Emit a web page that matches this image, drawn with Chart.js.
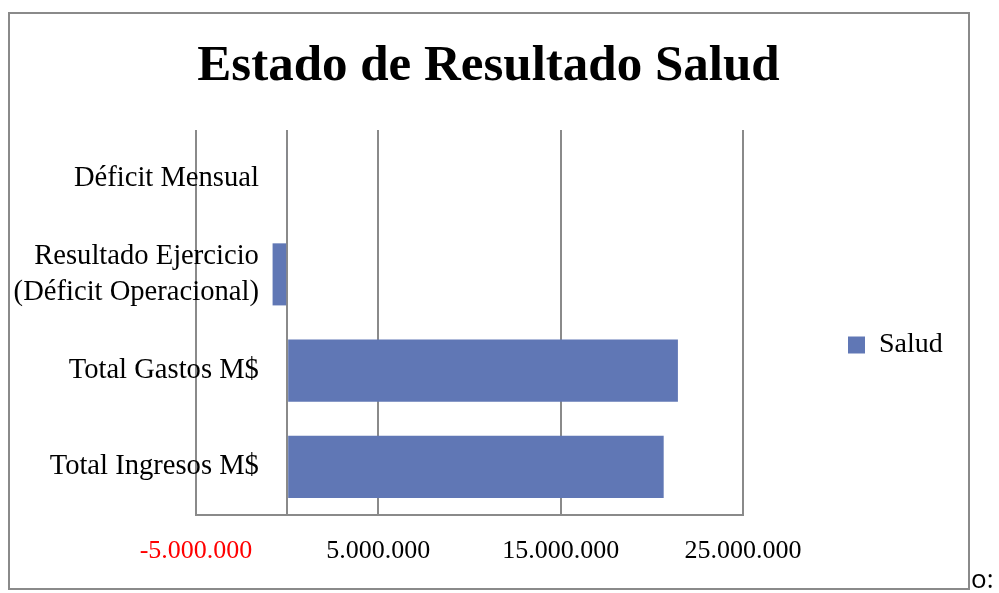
<!DOCTYPE html>
<html>
<head>
<meta charset="utf-8">
<script src="https://cdn.jsdelivr.net/npm/chart.js@4.4.0/dist/chart.umd.min.js"></script>
<style>
  html, body { margin:0; padding:0; background:#fff; }
  body { width:999px; height:593px; position:relative; overflow:hidden; }
  #frame { position:absolute; left:8px; top:12px; width:958px; height:574px; border:2px solid #8a8a8a; }
  #chart { position:absolute; left:0; top:0; }
  #tail { position:absolute; left:971px; top:565px; font:26px/26px "Open Sans", sans-serif; color:#000; }
</style>
</head>
<body>
<div id="frame"></div>
<canvas id="chart" width="999" height="593"></canvas>
<span id="tail">o:</span>
<script>
// data
const categories = [
  'Déficit Mensual',
  ['Resultado Ejercicio', '(Déficit Operacional)'],
  'Total Gastos M$',
  'Total Ingresos M$'
];
const seriesName = 'Salud';
const saludValues = [-60000, -800000, 21430000, 20650000];

// axis: -5M .. 25M, labels only every other step
const xMin = -5000000, xMax = 25000000, xStep = 5000000;
const xTickLabels = [-5000000, 5000000, 15000000, 25000000];
const xGridValues = [-5000000, 0, 5000000, 15000000, 25000000];

const SERIF = "'Liberation Serif', 'Times New Roman', serif";
const GRID = '#8a8a8a';
const BAR = '#6077b5';

function fmt(v){
  const s = Math.abs(v).toString().replace(/\B(?=(\d{3})+(?!\d))/g, '.');
  return (v < 0 ? '-' : '') + s;
}

/* move title + legend where the original has them */
const placeBlocks = {
  id: 'placeBlocks',
  beforeInit(chart){
    const lg = chart.legend;
    const fit = lg.fit;
    lg.fit = function(){ fit.call(this); this.width = 256; };
  },
  afterLayout(chart){
    const t = chart.titleBlock;
    t.left = 8; t.right = 969; t.width = 961;
    const lg = chart.legend;
    lg.left = 838; lg.right = 999;
    lg.top = 321; lg.bottom = 420;
  }
};

new Chart(document.getElementById('chart'), {
  type: 'bar',
  data: {
    labels: categories,
    datasets: [{
      label: seriesName,
      data: saludValues,
      backgroundColor: BAR,
      borderWidth: 0,
      categoryPercentage: 1,
      barPercentage: 0.645
    }]
  },
  options: {
    indexAxis: 'y',
    responsive: false,
    animation: false,
    devicePixelRatio: 1,
    layout: { padding: { left: 196, top: 12, right: 0, bottom: 0 } },
    plugins: {
      title: {
        display: true,
        text: 'Estado de Resultado Salud',
        color: '#000',
        font: { family: SERIF, size: 51, weight: 'bold', lineHeight: 1.2 },
        padding: { top: 24, bottom: 32.8 }
      },
      legend: {
        position: 'right',
        align: 'start',
        labels: {
          color: '#000',
          boxWidth: 17,
          boxHeight: 17,
          padding: 10,
          font: { family: SERIF, size: 28 }
        }
      },
      tooltip: { enabled: false }
    },
    scales: {
      x: {
        type: 'linear',
        min: xMin,
        max: xMax,
        afterFit(scale){ scale.height = 78; },
        ticks: {
          stepSize: xStep,
          autoSkip: false,
          maxRotation: 0,
          padding: 21,
          font: { family: SERIF, size: 26 },
          color: ctx => ctx.tick.value < 0 ? '#ff0000' : '#000',
          callback: v => xTickLabels.includes(v) ? fmt(v) : ''
        },
        grid: {
          drawTicks: false,
          lineWidth: 2,
          color: ctx => (ctx.tick && xGridValues.includes(ctx.tick.value)) ? GRID : 'rgba(0,0,0,0)'
        },
        border: { display: true, color: GRID, width: 2 }
      },
      y: {
        type: 'category',
        position: { x: -1550000 },
        grid: { display: false },
        border: { display: false },
        ticks: {
          color: '#000',
          autoSkip: false,
          font: { family: SERIF, size: 28.6, lineHeight: 1.27 }
        }
      }
    }
  },
  plugins: [placeBlocks]
});
</script>
</body>
</html>
